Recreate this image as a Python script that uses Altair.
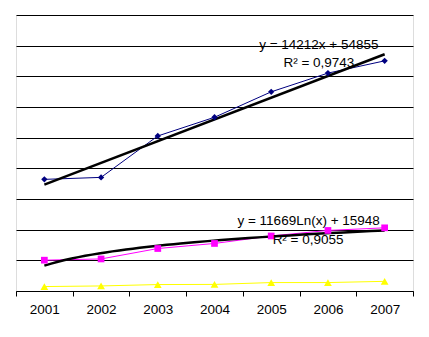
import altair as alt
import pandas as pd

years = [2001, 2002, 2003, 2004, 2005, 2006, 2007]
idx = [1, 2, 3, 4, 5, 6, 7]
blue_vals = [72800, 74100, 101100, 113300, 129900, 142100, 150100]
magenta_vals = [20100, 20900, 27700, 31000, 35900, 39500, 41200]
yellow_vals = [2900, 3300, 4200, 4300, 5500, 5500, 6300]

tick_bounds = [0.5, 1.5, 2.5, 3.5, 4.5, 5.5, 6.5, 7.5]
ann_text = ["y = 14212x + 54855", "R² = 0,9743", "y = 11669Ln(x) + 15948", "R² = 0,9055"]
ann_x = [5.84, 5.84, 5.66, 5.65]
ann_y = [160600, 148800, 45600, 33100]

rows = []
for name, vals in [("blue", blue_vals), ("magenta", magenta_vals), ("yellow", yellow_vals)]:
    for i, y, v in zip(idx, years, vals):
        rows.append({"series": name, "i": i, "year": y, "value": v})
df = pd.DataFrame(rows)
ann = pd.DataFrame({"text": ann_text, "x": ann_x, "y": ann_y})

W, H = 397, 276
FONT = "Liberation Sans"
xscale = alt.Scale(domain=[0.5, 7.5], nice=False, zero=False)
yscale = alt.Scale(domain=[0, 180000], nice=False)
yaxis = alt.Axis(values=list(range(0, 180001, 20000)), labels=False, ticks=False,
                 domain=False, grid=True, gridColor="black", gridWidth=1, gridOpacity=1, title=None)

colors = {"blue": "#000080", "magenta": "#FF00FF", "yellow": "#FFFF00"}
shapes = {"blue": "diamond", "magenta": "square", "yellow": "triangle-up"}
sizes = {"blue": 40, "magenta": 45, "yellow": 60}

xaxis = alt.Axis(orient="bottom", values=tick_bounds,
                 labelExpr="datum.value < 7 ? format(datum.value + 2000.5, 'd') : ''",
                 labelOffset=W / 14, ticks=True, tickColor="black", tickSize=5,
                 domain=True, domainColor="black", grid=False, title=None, labelFont=FONT,
                 labelFontSize=13.5, labelFontWeight="normal", labelColor="black",
                 labelPadding=6, labelFlush=False, labelOverlap=False, labelBound=False)

X = alt.X("i:Q", scale=xscale, axis=xaxis)
Y = alt.Y("value:Q", scale=yscale, axis=yaxis)
base = alt.Chart(df)

layers = []
for name in ["blue", "magenta", "yellow"]:
    layers.append(
        base.transform_filter(alt.datum.series == name).mark_line(color=colors[name], strokeWidth=1).encode(x=X, y=Y)
    )
trend_lin = base.transform_filter(alt.datum.series == "blue").transform_regression(
    "i", "value", method="linear", extent=[1, 7]
).mark_line(color="black", strokeWidth=2.5).encode(x=X, y=Y)
trend_log = base.transform_filter(alt.datum.series == "magenta").transform_regression(
    "i", "value", method="log", extent=[1, 7]
).mark_line(color="black", strokeWidth=2.5).encode(x=X, y=Y)
layers += [trend_lin, trend_log]
for name in ["blue", "magenta", "yellow"]:
    layers.append(
        base.transform_filter(alt.datum.series == name).mark_point(
            shape=shapes[name], filled=True, color=colors[name], size=sizes[name], opacity=1
        ).encode(x=X, y=Y)
    )
layers.append(
    alt.Chart(ann).mark_text(font=FONT, fontSize=13.5, color="black", align="center", baseline="middle").encode(
        x=alt.X("x:Q", scale=xscale, axis=xaxis),
        y=alt.Y("y:Q", scale=yscale, axis=yaxis),
        text="text:N",
    )
)

chart = alt.layer(*layers).properties(
    width=W, height=H,
    autosize=alt.AutoSizeParams(type="none"),
    padding={"left": 16, "top": 15, "right": 16, "bottom": 46},
).configure_view(stroke=None).configure(background="white")

chart.save("out.html", embed_options={"renderer": "svg", "actions": False})
